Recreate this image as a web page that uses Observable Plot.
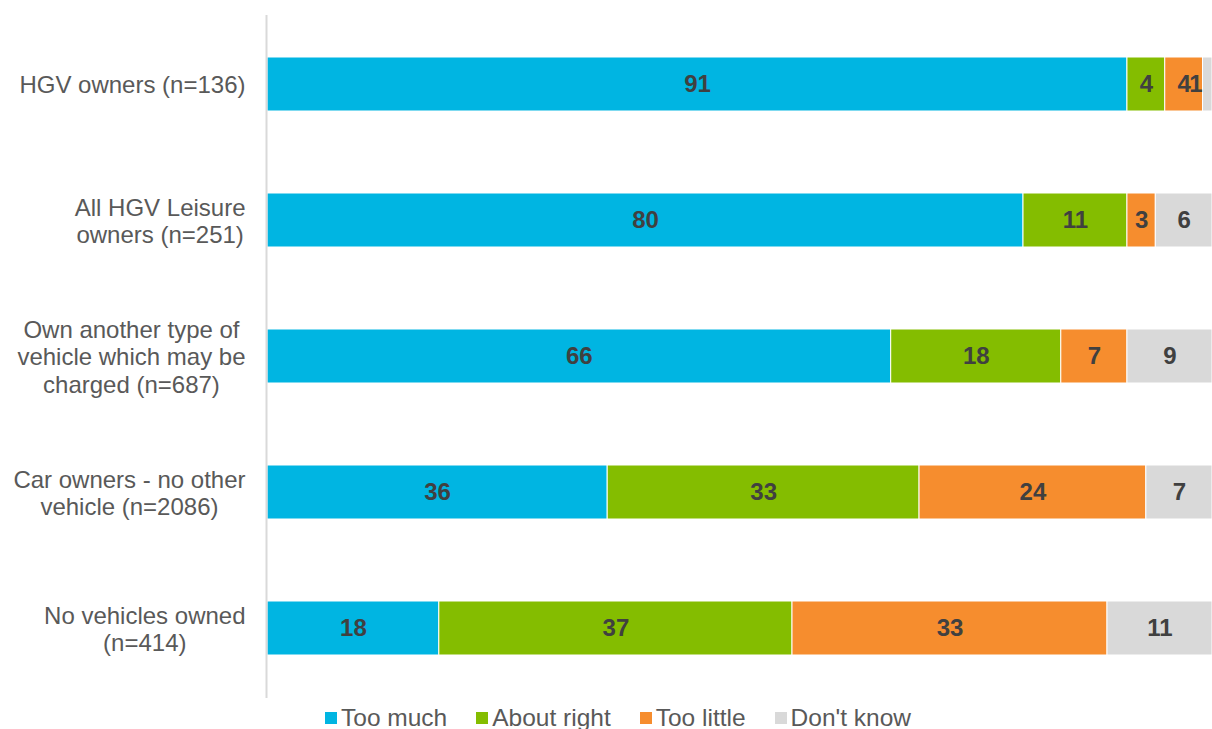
<!DOCTYPE html>
<html>
<head>
<meta charset="utf-8">
<script src="https://cdn.jsdelivr.net/npm/d3@7"></script>
<script src="https://cdn.jsdelivr.net/npm/@observablehq/plot@0.6"></script>
<style>
  body { margin: 0; background: #fff; font-family: "Liberation Sans", Arial, sans-serif; overflow: hidden; }
  #chart { width: 1212px; }
  .legend { display: flex; justify-content: flex-start; align-items: center; height: 35px; font-size: 24.5px; color: #595959; padding-left: 325px; }
  .legend .item { display: flex; align-items: center; margin-right: 29px; }
  .legend .sw { width: 12px; height: 12px; margin-right: 4px; }
</style>
</head>
<body>
<div id="chart"></div>
<script>
const categories = [
  "HGV owners (n=136)",
  "All HGV Leisure\nowners (n=251)",
  "Own another type of\nvehicle which may be\ncharged (n=687)",
  "Car owners - no other\nvehicle (n=2086)",
  "No vehicles owned\n(n=414)"
];
const seriesNames = ["Too much", "About right", "Too little", "Don't know"];
const tooMuch    = [91, 80, 66, 36, 18];
const aboutRight = [4, 11, 18, 33, 37];
const tooLittle  = [4, 3, 7, 24, 33];
const dontKnow   = [1, 6, 9, 7, 11];
const colors = ["#00B5E2", "#84BD00", "#F68D2E", "#D9D9D9"];

const seriesValues = [tooMuch, aboutRight, tooLittle, dontKnow];
const rows = [];
seriesNames.forEach((s, si) => {
  categories.forEach((c, ci) => {
    rows.push({cat: c, series: s, value: seriesValues[si][ci]});
  });
});

const labelFont = "24px 'Liberation Sans', Arial, sans-serif";
const ctx = document.createElement("canvas").getContext("2d");
ctx.font = labelFont;
const labelMarks = categories.map(c => {
  const w = d3.max(c.split("\n"), l => ctx.measureText(l).width);
  return Plot.text([c], {
    y: d => d, text: d => d, frameAnchor: "left", textAnchor: "middle",
    dx: -(22 + w / 2), lineHeight: 1.15, fontSize: 24, fill: "#595959"
  });
});

const stackOpts = {x: "value", y: "cat", z: "series", offset: "normalize", order: null};

const chart = Plot.plot({
  width: 1212,
  height: 700,
  marginLeft: 267,
  marginRight: 0,
  marginTop: 15,
  marginBottom: 2,
  style: {fontFamily: "'Liberation Sans', Arial, sans-serif", background: "#fff"},
  x: {axis: null, domain: [0, 1]},
  y: {axis: null, domain: categories, paddingInner: 0.6, paddingOuter: 0.3},
  color: {domain: seriesNames, range: colors},
  marks: [
    Plot.barX(rows, Plot.stackX({
      ...stackOpts, fill: "series", stroke: "white", strokeWidth: 1
    })),
    Plot.text(rows, Plot.stackX({
      ...stackOpts, text: d => d.value >= 2 ? String(d.value) : null,
      fontSize: 24, fontWeight: "bold", fill: "#404040"
    })),
    Plot.text(rows, Plot.stackX2({
      ...stackOpts, text: d => d.value < 2 ? String(d.value) : null,
      textAnchor: "end", dx: -10,
      fontSize: 24, fontWeight: "bold", fill: "#404040"
    })),
    Plot.ruleX([0], {stroke: "#D9D9D9", strokeWidth: 2, dx: -1}),
    ...labelMarks
  ]
});
document.getElementById("chart").appendChild(chart);

const legend = document.createElement("div");
legend.className = "legend";
seriesNames.forEach((s, i) => {
  const item = document.createElement("div");
  item.className = "item";
  const sw = document.createElement("span");
  sw.className = "sw";
  sw.style.background = colors[i];
  const t = document.createElement("span");
  t.textContent = s;
  item.appendChild(sw);
  item.appendChild(t);
  legend.appendChild(item);
});
document.getElementById("chart").appendChild(legend);
</script>
</body>
</html>
